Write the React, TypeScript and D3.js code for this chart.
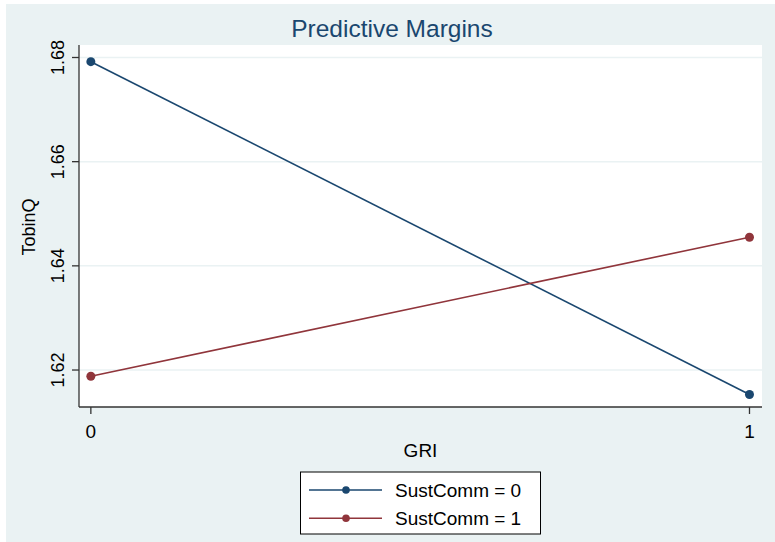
import React from "react";
import * as d3 from "d3";

const xCategories = [0, 1];
const xTickLabels = ["0", "1"];
const yTicks = [1.62, 1.64, 1.66, 1.68];
const yTickLabels = ["1.62", "1.64", "1.66", "1.68"];
const seriesNames = ["SustComm = 0", "SustComm = 1"];
const sustComm0 = [1.6792, 1.6153];
const sustComm1 = [1.6188, 1.6455];
const seriesColors = ["#1a476f", "#90353b"];

const W = 775;
const H = 542;
const FONT = "'Liberation Sans', Arial, sans-serif";

export default function App() {
  const plotL = 79, plotR = 762, plotT = 45, plotB = 407;
  const x = d3.scaleLinear().domain([-0.018, 1.019]).range([plotL, plotR]);
  const y = d3.scaleLinear().domain([1.6129, 1.6824]).range([plotB, plotT]);
  const line = d3.line<number>().x((_, i) => x(xCategories[i])).y((d) => y(d));
  const series = [sustComm0, sustComm1];

  return (
    <svg width={W} height={H} style={{ position: "absolute", left: 0, top: 0 }} fontFamily={FONT}>
      <rect x={0} y={0} width={W} height={H} fill="#ffffff" />
      <rect x={6} y={4} width={W - 6} height={H - 4} fill="#eaf2f3" />
      <rect x={plotL} y={plotT} width={plotR - plotL} height={plotB - plotT} fill="#ffffff" />
      {yTicks.map((t) => (
        <line key={"g" + t} x1={plotL} x2={plotR} y1={y(t)} y2={y(t)} stroke="#eaf2f3" strokeWidth={1.5} />
      ))}
      <text x={392} y={37} textAnchor="middle" fontSize={24.5} fill="#1a476f">Predictive Margins</text>
      {/* axes */}
      <line x1={plotL} x2={plotL} y1={plotT} y2={plotB} stroke="#333" strokeWidth={1.3} />
      <line x1={plotL} x2={plotR} y1={plotB} y2={plotB} stroke="#333" strokeWidth={1.3} />
      {yTicks.map((t, i) => (
        <g key={"y" + t}>
          <line x1={plotL - 7} x2={plotL} y1={y(t)} y2={y(t)} stroke="#333" strokeWidth={1.3} />
          <text transform={`translate(63.5,${y(t)}) rotate(-90)`} textAnchor="middle" fontSize={18} fill="#000">{yTickLabels[i]}</text>
        </g>
      ))}
      {xCategories.map((c, i) => (
        <g key={"x" + c}>
          <line x1={x(c)} x2={x(c)} y1={plotB} y2={plotB + 7} stroke="#333" strokeWidth={1.3} />
          <text x={x(c)} y={438} textAnchor="middle" fontSize={19} fill="#000">{xTickLabels[i]}</text>
        </g>
      ))}
      <text transform={`translate(35,227) rotate(-90)`} textAnchor="middle" fontSize={18} fill="#000">TobinQ</text>
      <text x={(plotL + plotR) / 2} y={457} textAnchor="middle" fontSize={19} fill="#000">GRI</text>
      {series.map((s, si) => (
        <g key={"s" + si}>
          <path d={line(s) || ""} fill="none" stroke={seriesColors[si]} strokeWidth={1.6} />
          {s.map((v, i) => (
            <circle key={i} cx={x(xCategories[i])} cy={y(v)} r={4.5} fill={seriesColors[si]} />
          ))}
        </g>
      ))}
      {/* legend */}
      <rect x={300.5} y={472} width={240} height={62} fill="#ffffff" stroke="#000" strokeWidth={1} />
      {seriesNames.map((n, i) => {
        const ly = 490 + i * 28.3;
        return (
          <g key={"l" + i}>
            <line x1={309} x2={382} y1={ly} y2={ly} stroke={seriesColors[i]} strokeWidth={1.6} />
            <circle cx={346} cy={ly} r={3.8} fill={seriesColors[i]} />
            <text x={395} y={ly + 7} fontSize={19} fill="#000">{n}</text>
          </g>
        );
      })}
    </svg>
  );
}
